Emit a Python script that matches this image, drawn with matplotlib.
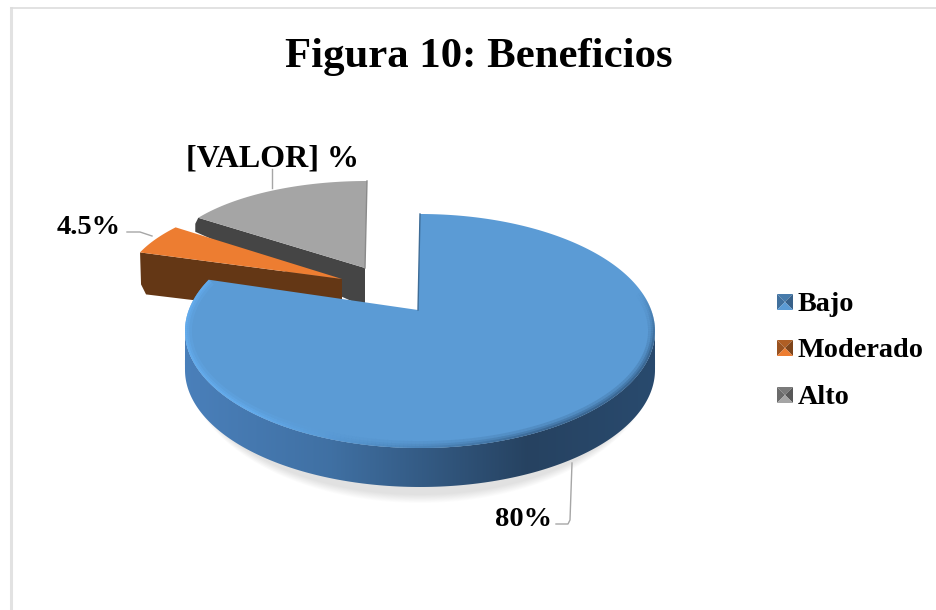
#!/usr/bin/env python3
"""
Figura 10: Beneficios - exploded pie with a fake 3D look
"""
import numpy as np
import matplotlib
matplotlib.use('Agg')
import matplotlib.pyplot as plt
from matplotlib.collections import LineCollection
from matplotlib.colors import LinearSegmentedColormap, to_rgb
from matplotlib.patches import Polygon

categories = ['Bajo', 'Moderado', 'Alto']
values = [80, 4.5, 15.5]
value_labels = ['80%', '4.5%', '[VALOR] %']
title = 'Figura 10: Beneficios'

top_colors = ['#5B9BD5', '#ED7D31', '#A5A5A5']
side_colors = ['#2F5377', '#643715', '#454545']

plt.rcParams['font.family'] = ['Liberation Serif', 'DejaVu Serif']

DEPTH = 39


def rim(t, e):
    # t in degrees clockwise from 12 o'clock, e = cx, cy, rx, ry, warp
    cx, cy, rx, ry, warp = e
    a = np.radians(np.asarray(t) * warp)
    return cx + rx * np.sin(a), cy - ry * np.cos(a)


def mix(c0, c1, f):
    return tuple((1 - f) * np.array(to_rgb(c0)) + f * np.array(to_rgb(c1)))


fig = plt.figure(figsize=(9.36, 6.1), dpi=100)
ax = fig.add_axes([0, 0, 1, 1])
ax.axis('off')

# chart frame
ax.plot([10.5, 10.5], [610, 8], color='#E2E2E2', lw=2.2)
ax.plot([10.5, 936], [7.5, 7.5], color='#DDDDDD', lw=1.2)

# angles of the slices come from the values
edges = np.cumsum([0] + values) / sum(values) * 360

ell_blue = (420, 331, 235, 117, 296 / 288)
ell_orange = (413, 283, 287, 99, 1)
ell_grey = (367, 265, 204, 84, 1)
apex_blue = (418, 310)
apex_orange = (342, 279)
apex_grey = (365, 268)

# soft shadow, lower half only
for i in range(10):
    g = i / 9
    ax.fill(*rim(np.linspace(90, 270, 120), (420, 360, 236 - 3 * g, 143 - 8 * g, 1)),
            color='k', alpha=0.012, lw=0, zorder=1)

# grey slice
tt = np.linspace(edges[2], edges[3], 60)
x, y = rim(tt, ell_grey)
ax.fill([x[0] - 3, x[0], apex_grey[0], apex_grey[0], x[0] - 3],
        [y[0] + 6, y[0], apex_grey[1], apex_grey[1] + DEPTH, y[0] + 14],
        color=side_colors[2], lw=0, zorder=2)
ax.fill(np.r_[apex_grey[0], x], np.r_[apex_grey[1], y], color=top_colors[2], lw=0, zorder=3)
ax.plot([x[-1], apex_grey[0]], [y[-1], apex_grey[1]], color='#8A8A8A', lw=1, zorder=3)

# orange slice
tt = np.linspace(edges[1], edges[2], 30)
x, y = rim(tt, ell_orange)
ax.fill([x[0], apex_orange[0], apex_orange[0], x[0] + 6, x[0] + 1],
        [y[0], apex_orange[1], apex_orange[1] + DEPTH, y[0] + 42, y[0] + 32],
        color=side_colors[1], lw=0, zorder=4)
ax.fill(np.r_[apex_orange[0], x], np.r_[apex_orange[1], y], color=top_colors[1], lw=0, zorder=5)

# blue slice, side wall as a clipped horizontal gradient
side_cmap = LinearSegmentedColormap.from_list('side', [
    (0.00, (0.29, 0.50, 0.73)),
    (0.31, (0.25, 0.44, 0.64)),
    (0.73, (0.15, 0.26, 0.38)),
    (1.00, (0.16, 0.29, 0.43)),
])
tt = np.linspace(90 / ell_blue[4], 270 / ell_blue[4], 181)
x, y = rim(tt, ell_blue)
wall = Polygon(np.column_stack([np.r_[x, x[::-1]], np.r_[y, y[::-1] + DEPTH]]),
               transform=ax.transData, fc='none', ec='none')
ax.add_patch(wall)
im = ax.imshow(np.linspace(0, 1, 256)[None, :], cmap=side_cmap, aspect='auto',
               extent=(185, 655, 500, 300), zorder=6)
im.set_clip_path(wall)

tt = np.linspace(edges[0], edges[1], 300)
x, y = rim(tt, ell_blue)
face = ax.fill(np.r_[apex_blue[0], x], np.r_[apex_blue[1], y], color=top_colors[0], lw=0, zorder=7)[0]
ax.plot([x[0], apex_blue[0]], [y[0], apex_blue[1]], color='#3E6C96', lw=1, zorder=8)

# bevel along the rim of the blue slice, inside the face only
sel = (tt * ell_blue[4] > 70)
pts = np.column_stack([x[sel], y[sel]])
segs = np.stack([pts[:-1], pts[1:]], axis=1)
rgb = []
ramp = []
for xm, tm in zip((pts[:-1, 0] + pts[1:, 0]) / 2, tt[sel][:-1] * ell_blue[4]):
    f = np.clip((xm - 250) / 300, 0, 1)
    rgb.append(mix((0.40, 0.69, 0.95), (0.20, 0.36, 0.52), f))
    ramp.append(np.clip((tm - 70) / 30, 0, 1))
for w, a in [(10, 0.22), (6, 0.35), (3, 0.6)]:
    cols = [(*c, a * r) for c, r in zip(rgb, ramp)]
    lc = LineCollection(segs, colors=cols, linewidths=w, zorder=8)
    ax.add_collection(lc)
    lc.set_clip_path(face)

# leader lines
leader = dict(color='#A6A6A6', lw=1, zorder=9)
ax.plot([572, 570, 568, 556], [463, 520, 524, 524], **leader)
ax.plot([272, 272], [169, 188], **leader)
ax.plot([127, 140, 152], [232, 232, 236], **leader)

# texts
bold = dict(fontweight='bold', color='black', zorder=10)
ax.text(479, 57, title, ha='center', va='center', fontsize=30.8, **bold)
ax.text(523, 519, value_labels[0], ha='center', va='center', fontsize=20.5, **bold)
ax.text(89, 227, value_labels[1], ha='center', va='center', fontsize=20.5, **bold)
ax.text(273, 159, value_labels[2], ha='center', va='center', fontsize=23, **bold)

# legend, keys shaded like small pyramids
leg_y = [302, 348, 395]
for name, col, side, ly in zip(categories, top_colors, side_colors, leg_y):
    x0, x1, y0, y1 = 777, 793, ly - 8, ly + 8
    xc, yc = (x0 + x1) / 2, (y0 + y1) / 2
    ax.fill([x0, x1, xc], [y0, y0, yc], color=mix(col, side, 0.45), lw=0, zorder=9)
    ax.fill([x1, x1, xc], [y0, y1, yc], color=mix(col, side, 0.8), lw=0, zorder=9)
    ax.fill([x0, x0, xc], [y0, y1, yc], color=mix(col, side, 0.6), lw=0, zorder=9)
    ax.fill([x0, x1, xc], [y1, y1, yc], color=col, lw=0, zorder=9)
    ax.text(798, ly + 2.5, name, ha='left', va='center', fontsize=20.3, **bold)

ax.set_xlim(0, 936)
ax.set_ylim(610, 0)
fig.savefig('out.png', dpi=100)
